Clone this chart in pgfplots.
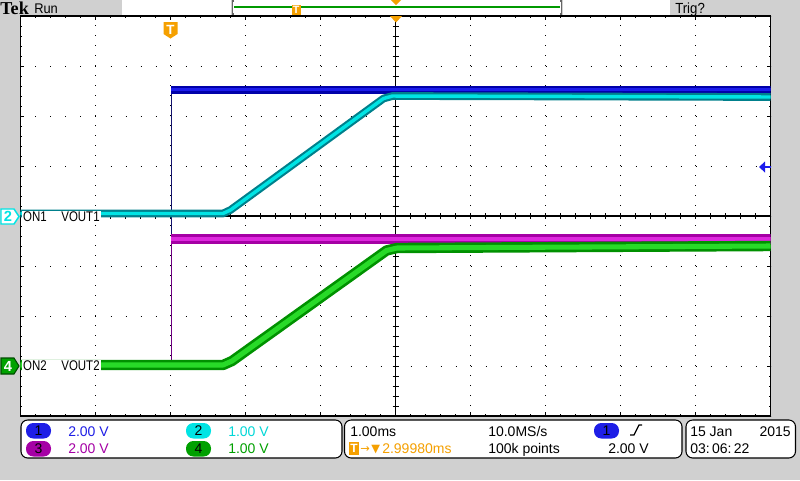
\documentclass[border=0pt]{standalone}
\usepackage{pgfplots}
\pgfplotsset{compat=1.18}
\usepackage{fontspec}
\setmainfont{Liberation Sans}
\newfontfamily\tekfont{Liberation Serif}
\newfontfamily\symfont{DejaVu Sans}
\definecolor{scopegrey}{RGB}{208,208,208}
\definecolor{tekblue}{RGB}{28,28,236}
\definecolor{tekbluedk}{RGB}{0,0,170}
\definecolor{teknavy}{RGB}{20,20,110}
\definecolor{tekcyan}{RGB}{0,228,228}
\definecolor{tekteal}{RGB}{0,128,140}
\definecolor{tekmag}{RGB}{222,40,222}
\definecolor{tekmagdk}{RGB}{165,0,165}
\definecolor{tekpurple}{RGB}{110,0,130}
\definecolor{tekgreen}{RGB}{40,218,40}
\definecolor{tekgreendk}{RGB}{0,145,0}
\definecolor{tekorange}{RGB}{245,160,0}
\definecolor{txtblue}{RGB}{30,30,230}
\definecolor{txtcyan}{RGB}{0,215,215}
\definecolor{txtmag}{RGB}{165,0,165}
\definecolor{txtgreen}{RGB}{0,160,0}
\newcommand{\nar}[1]{\scalebox{0.82}[1]{#1}}
\begin{document}
\begin{tikzpicture}
\useasboundingbox (0,0) rectangle (600pt,-360pt);
% ---------- background ----------
\begin{scope}[x=0.75pt,y=-0.75pt]
\fill[scopegrey] (0,0) rectangle (800,480);
\fill[white] (20.5,16) rectangle (770.5,416);
% top bar boxes
\fill[white] (122,0) rectangle (231,15);
\fill[white] (233,0) rectangle (561,15);
\fill[white] (563,0) rectangle (670,15);
\draw[gray!80!black, line width=1.2pt] (234,1) -- (232.5,1) -- (232.5,14) -- (234,14);
\draw[gray!80!black, line width=1.2pt] (560,1) -- (561.5,1) -- (561.5,14) -- (560,14);
\draw[green!60!black, line width=0.9pt] (234,7) -- (560,7);
% centre crosshair
\draw[black, line width=1.1pt] (20.5,216) -- (770.5,216);
\draw[black, line width=1.1pt] (395.5,16) -- (395.5,416);
\foreach \k in {1,...,49} {\draw[black, line width=0.75pt] (20.5+15*\k,213) -- (20.5+15*\k,219);}
\foreach \k in {1,...,39} {\draw[black, line width=0.75pt] (392.5,16+10*\k) -- (398.5,16+10*\k);}
\end{scope}
% ---------- axis with the four channels ----------
\begin{axis}[
  at={(15.375pt,-312pt)}, anchor=south west,
  width=562.5pt, height=300pt, scale only axis,
  xmin=-5, xmax=5, ymin=-4, ymax=4,
  xtick={-5,...,5}, ytick={-4,...,4},
  minor x tick num=4, minor y tick num=4,
  xticklabels={}, yticklabels={},
  tick align=inside, major tick length=3pt, minor tick length=1.5pt,
  tick style={black, line width=0.75pt},
  grid=major,
  x grid style={black, line width=0.75pt, dash pattern=on 0.75pt off 6.75pt},
  y grid style={black, line width=0.75pt, dash pattern=on 0.75pt off 10.5pt},
  axis line style={black, line width=1.2pt},
  every axis plot/.append style={mark=none, line join=round},
]
% Ch1 (blue)
\addplot[teknavy, line width=0.8pt] coordinates {(-5,0.05) (-2.99,0.05) (-2.99,-0.35) (-2.99,2.52)};
\addplot[tekbluedk, line width=5.6pt] coordinates {(-2.99,2.52) (5,2.52)};
\addplot[tekblue, line width=2.6pt] coordinates {(-2.99,2.53) (5,2.53)};
% Ch2 (cyan)
\addplot[tekteal, line width=5.8pt] coordinates {(-5,0.05) (-2.30,0.05) (-2.20,0.12) (-0.16,2.35) (-0.04,2.40) (5,2.38)};
\addplot[tekcyan, line width=2.6pt] coordinates {(-5,0.05) (-2.30,0.05) (-2.20,0.12) (-0.16,2.35) (-0.04,2.40) (5,2.38)};
% Ch3 (magenta)
\addplot[tekpurple, line width=0.8pt] coordinates {(-5,-2.98) (-2.99,-2.98) (-2.99,-0.46)};
\addplot[tekmagdk, line width=6.8pt] coordinates {(-2.99,-0.46) (5,-0.46)};
\addplot[tekmag, line width=2.8pt] coordinates {(-2.99,-0.46) (5,-0.46)};
% Ch4 (green)
\addplot[tekgreendk, line width=7.8pt] coordinates {(-5,-2.98) (-2.30,-2.98) (-2.18,-2.90) (-0.12,-0.69) (0.02,-0.64) (5,-0.60)};
\addplot[tekgreen, line width=3.8pt] coordinates {(-5,-2.98) (-2.30,-2.98) (-2.18,-2.90) (-0.12,-0.69) (0.02,-0.64) (5,-0.60)};
\end{axis}
% ---------- foreground ----------
\begin{scope}[x=0.75pt,y=-0.75pt]
% trace labels
\node[fill=white, inner xsep=1pt, inner ysep=0.5pt, anchor=west, font=\fontsize{10.5}{12}\selectfont] at (21.5,216.5) {\nar{ON1}\hspace{11pt}\nar{VOUT1}\hspace{4pt}};
\node[fill=white, inner xsep=1pt, inner ysep=0.5pt, anchor=west, font=\fontsize{10.5}{12}\selectfont] at (21.5,366) {\nar{ON2}\hspace{11pt}\nar{VOUT2}\hspace{4pt}};
% left markers
\filldraw[fill=white, draw=tekcyan, line width=1.1pt] (1,209) -- (14,209) -- (19,216.5) -- (14,224) -- (1,224) -- cycle;
\node[text=tekcyan, font=\bfseries\fontsize{11}{12}\selectfont] at (8,216.5) {2};
\filldraw[fill=tekgreendk!85!green, draw=black!70!green, line width=0.8pt] (1,358) -- (14,358) -- (19,366) -- (14,374) -- (1,374) -- cycle;
\node[text=white, font=\bfseries\fontsize{11}{12}\selectfont] at (8,366) {4};
% right trigger level arrow
\fill[tekblue] (759,167) -- (765,161.5) -- (765,172.5) -- cycle;
\draw[tekblue, line width=1.5pt] (764,167) -- (770.5,167);
% trigger position markers
\fill[tekorange] (390,16) -- (402,16) -- (396,22.5) -- cycle;
\fill[tekorange] (391,0) -- (401,0) -- (396,5) -- cycle;
\fill[tekorange] (163.5,22) -- (177.5,22) -- (177.5,34) -- (170.5,38.5) -- (163.5,34) -- cycle;
\node[text=white, font=\bfseries\fontsize{10}{12}\selectfont] at (170.5,29.5) {T};
\fill[tekorange] (291.5,4.5) rectangle (301,15);
\node[text=white, font=\bfseries\fontsize{8}{9}\selectfont] at (296.2,9.8) {T};
% top texts
\node[anchor=base west, inner sep=0pt, font=\tekfont\bfseries\fontsize{13.6}{14}\selectfont] at (0,14.5) {Tek};
\node[anchor=base west, inner sep=0pt, font=\fontsize{10.5}{12}\selectfont] at (34,13.5) {\scalebox{0.92}[1]{Run}};
\node[anchor=base west, inner sep=0pt, font=\fontsize{11}{12}\selectfont] at (675,13.5) {\scalebox{0.9}[1]{Trig?}};
% bottom boxes
\filldraw[fill=white, draw=black, line width=0.8pt, rounded corners=5pt] (21,420) rectangle (342,458);
\filldraw[fill=white, draw=black, line width=0.8pt, rounded corners=5pt] (344.5,420) rectangle (682,458);
\filldraw[fill=white, draw=black, line width=0.8pt, rounded corners=5pt] (686,420) rectangle (795.5,458);
\begin{scope}[every node/.style={inner sep=0pt, font=\fontsize{10.5}{12}\selectfont}]
% channel ovals
\fill[txtblue, rounded corners=5.5pt] (26,423) rectangle (51,438.5);
\node at (38.5,430.8) {1};
\fill[tekcyan, rounded corners=5.5pt] (186,423) rectangle (211,438.5);
\node at (198.5,430.8) {2};
\fill[txtmag, rounded corners=5.5pt] (26,441) rectangle (51,456.5);
\node at (38.5,448.8) {3};
\fill[txtgreen, rounded corners=5.5pt] (186,441) rectangle (211,456.5);
\node at (198.5,448.8) {4};
\node[anchor=base west, text=txtblue] at (68,436) {2.00 V};
\node[anchor=base west, text=txtcyan] at (228,436) {1.00 V};
\node[anchor=base west, text=txtmag] at (68,453) {2.00 V};
\node[anchor=base west, text=txtgreen] at (228,453) {1.00 V};
% timebase box
\node[anchor=base west] at (350,436) {1.00ms};
\fill[tekorange] (349,442) rectangle (359,455);
\node[text=white, font=\bfseries\fontsize{9}{10}\selectfont] at (354,448.5) {T};
\node[anchor=base west, text=tekorange, font=\symfont\fontsize{8.5}{10}\selectfont] at (360,452) {→};
\node[anchor=base west, text=tekorange, font=\symfont\fontsize{8.5}{10}\selectfont] at (371,452) {▼};
\node[anchor=base west, text=tekorange] at (382,453) {2.99980ms};
\node[anchor=base west] at (488,436) {10.0MS/s};
\node[anchor=base west] at (488,453) {100k points};
\fill[txtblue, rounded corners=5.5pt] (594,423) rectangle (619,438.5);
\node at (606.5,430.8) {1};
\draw[black, line width=0.9pt] (630,435) -- (634,435) -- (639,425) -- (642,425);
\node[anchor=base west] at (608,453) {2.00 V};
% date box
\node[anchor=base west] at (690,436) {15 Jan};
\node[anchor=base east] at (791,436) {2015};
\node[anchor=base west] at (690,453) {03:\,06:\,22};
\end{scope}
\end{scope}
\end{tikzpicture}
\end{document}
